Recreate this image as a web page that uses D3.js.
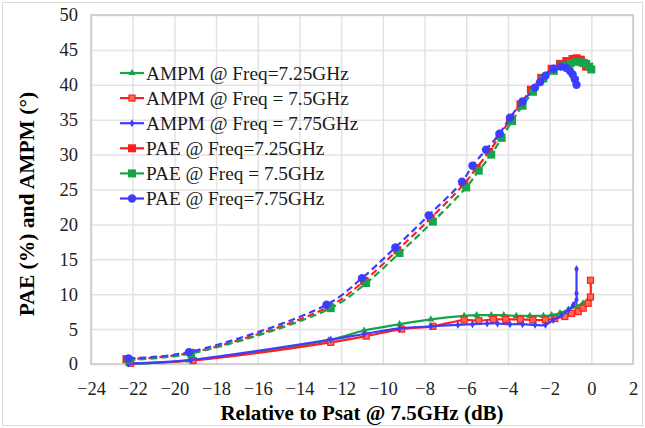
<!DOCTYPE html>
<html lang="en">
<head>
    <meta charset="UTF-8">
    <title>PAE and AMPM</title>
    <script src="https://d3js.org/d3.v7.min.js"></script>
    <style>
        body { margin: 0; background: #fff; }
        text { font-family: "Liberation Serif", "Times New Roman", serif; }
    </style>
</head>
<body>
<svg id="chart" width="645" height="428"></svg>

<script>
    // x: dB relative to Psat, y: PAE (%) or AMPM (deg)
    const ampm725x = [-22.2, -19.3, -12.6, -10.9, -9.2, -7.7, -6.1, -5.5, -4.8, -4.2, -3.6, -2.95, -2.3, -1.9, -1.5, -1.1, -0.7, -0.4, -0.15];
    const ampm725y = [0.0, 0.5, 3.4, 4.8, 5.7, 6.4, 6.9, 7.0, 7.0, 7.0, 6.9, 6.9, 6.9, 7.0, 7.3, 7.8, 8.3, 8.7, 9.2];
    const ampm75x = [-22.1, -19.1, -12.5, -10.8, -9.1, -7.6, -6.1, -5.4, -4.7, -4.1, -3.4, -2.8, -2.2, -1.75, -1.27, -0.95, -0.63, -0.39, -0.15, -0.04, -0.04];
    const ampm75y = [0.1, 0.5, 3.1, 4.0, 5.0, 5.4, 6.3, 6.2, 6.4, 6.4, 6.4, 6.3, 6.3, 6.5, 6.8, 7.25, 7.5, 8.0, 8.7, 9.6, 12.0];
    const ampm775x = [-22.2, -19.2, -12.5, -10.9, -9.2, -7.7, -6.4, -5.7, -5.0, -4.5, -3.9, -3.3, -2.7, -2.2, -1.83, -1.43, -1.1, -0.87, -0.71, -0.71, -0.71];
    const ampm775y = [0.05, 0.6, 3.5, 4.3, 5.1, 5.4, 5.6, 5.7, 5.8, 5.8, 5.7, 5.7, 5.6, 5.6, 6.3, 7.0, 7.7, 8.45, 9.2, 10.1, 13.6];

    const pae725x = [-22.3, -19.2, -12.6, -10.9, -9.3, -7.7, -6.1, -5.5, -4.9, -4.4, -3.9, -3.4, -2.9, -2.4, -1.9, -1.5, -1.2, -0.9, -0.7, -0.5, -0.35, -0.25];
    const pae725y = [0.7, 1.6, 8.2, 11.9, 16.3, 20.9, 25.8, 28.1, 30.4, 32.7, 35.0, 37.2, 39.3, 41.0, 42.3, 43.0, 43.4, 43.7, 43.8, 43.6, 43.1, 42.6];
    const pae75x = [-22.2, -19.2, -12.5, -10.8, -9.2, -7.6, -6.0, -5.4, -4.8, -4.3, -3.8, -3.3, -2.8, -2.3, -1.8, -1.4, -1.0, -0.7, -0.45, -0.25, -0.1, 0.0];
    const pae75y = [0.6, 1.5, 8.0, 11.6, 15.9, 20.4, 25.3, 27.7, 30.0, 32.4, 34.8, 37.0, 39.0, 40.9, 42.0, 42.7, 43.1, 43.3, 43.2, 43.0, 42.6, 42.2];
    const pae775x = [-22.2, -19.3, -12.7, -11.0, -9.4, -7.8, -6.2, -5.7, -5.05, -4.4, -3.9, -3.3, -2.7, -2.45, -2.2, -1.8, -1.47, -1.22, -1.03, -0.9, -0.79, -0.71];
    const pae775y = [0.8, 1.7, 8.5, 12.3, 16.7, 21.3, 26.1, 28.4, 30.7, 33.0, 35.3, 37.6, 39.6, 40.4, 41.3, 42.3, 42.6, 42.45, 42.0, 41.5, 40.8, 40.0];

    const xTicks = [-24, -22, -20, -18, -16, -14, -12, -10, -8, -6, -4, -2, 0, 2];
    const yTicks = [0, 5, 10, 15, 20, 25, 30, 35, 40, 45, 50];

    const GREEN = '#17a34a';
    const RED = '#ff1f1f';
    const BLUE = '#3d3dff';

    const series = [
        {name: 'AMPM @ Freq=7.25GHz', xs: ampm725x, ys: ampm725y, color: GREEN, dash: null, marker: 'tri'},
        {name: 'AMPM @ Freq = 7.5GHz', xs: ampm75x, ys: ampm75y, color: RED, dash: null, marker: 'smallsq'},
        {name: 'AMPM @ Freq = 7.75GHz', xs: ampm775x, ys: ampm775y, color: BLUE, dash: null, marker: 'plus'},
        {name: 'PAE @ Freq=7.25GHz', xs: pae725x, ys: pae725y, color: RED, dash: '7,4', marker: 'square'},
        {name: 'PAE @ Freq = 7.5GHz', xs: pae75x, ys: pae75y, color: GREEN, dash: '7,4', marker: 'square'},
        {name: 'PAE @ Freq=7.75GHz', xs: pae775x, ys: pae775y, color: BLUE, dash: '7,4', marker: 'circle'}
    ];

    const svg = d3.select('#chart');
    const plotL = 91, plotR = 633, plotT = 15, plotB = 364;

    const x = d3.scaleLinear().domain([-24, 2]).range([plotL, plotR]);
    const y = d3.scaleLinear().domain([0, 50]).range([plotB, plotT]);

    // outer chart frame
    svg.append('rect')
        .attr('x', 2.5).attr('y', 2.5)
        .attr('width', 640).attr('height', 423)
        .attr('fill', 'none').attr('stroke', '#d9d9d9');

    // grid
    svg.append('g')
        .attr('transform', `translate(0,${plotB})`)
        .call(d3.axisBottom(x).tickValues(xTicks).tickSize(-(plotB - plotT)).tickFormat(''))
        .call(g => g.select('.domain').remove())
        .selectAll('line').attr('stroke', '#e3e3e3').attr('stroke-width', 1.5);

    svg.append('g')
        .attr('transform', `translate(${plotL},0)`)
        .call(d3.axisLeft(y).tickValues(yTicks).tickSize(-(plotR - plotL)).tickFormat(''))
        .call(g => g.select('.domain').remove())
        .selectAll('line').attr('stroke', '#e3e3e3').attr('stroke-width', 1.5);

    svg.append('rect')
        .attr('x', plotL).attr('y', plotT)
        .attr('width', plotR - plotL).attr('height', plotB - plotT)
        .attr('fill', 'none').attr('stroke', '#c8c8c8').attr('stroke-width', 1.5);

    // tick labels
    svg.append('g')
        .attr('transform', `translate(0,${plotB})`)
        .call(d3.axisBottom(x).tickValues(xTicks).tickSize(0).tickPadding(18))
        .call(g => g.select('.domain').remove())
        .selectAll('text')
        .attr('font-family', '"Liberation Serif", serif')
        .attr('font-size', 18.5).attr('fill', '#222');

    svg.append('g')
        .attr('transform', `translate(${plotL},0)`)
        .call(d3.axisLeft(y).tickValues(yTicks).tickSize(0).tickPadding(13))
        .call(g => g.select('.domain').remove())
        .selectAll('text')
        .attr('font-family', '"Liberation Serif", serif')
        .attr('font-size', 18.5).attr('fill', '#222');

    // axis titles
    svg.append('text')
        .attr('x', 362).attr('y', 420)
        .attr('text-anchor', 'middle')
        .attr('font-weight', 'bold').attr('font-size', 21)
        .text('Relative to Psat @ 7.5GHz (dB)');

    svg.append('text')
        .attr('transform', `translate(34,204) rotate(-90)`)
        .attr('text-anchor', 'middle')
        .attr('font-weight', 'bold').attr('font-size', 21.5)
        .text('PAE (%) and AMPM (°)');

    const drawMarker = (g, type, color, cx, cy) => {
        if (type === 'square') {
            g.append('rect').attr('x', cx - 4).attr('y', cy - 4).attr('width', 8).attr('height', 8).attr('fill', color);
        } else if (type === 'smallsq') {
            g.append('rect').attr('x', cx - 3).attr('y', cy - 3).attr('width', 6).attr('height', 6)
                .attr('fill', '#ff6a4a').attr('stroke', color).attr('stroke-width', 1.2);
        } else if (type === 'circle') {
            g.append('circle').attr('cx', cx).attr('cy', cy).attr('r', 4.2).attr('fill', color);
        } else if (type === 'tri') {
            g.append('path').attr('d', d3.symbol().type(d3.symbolTriangle).size(22)())
                .attr('transform', `translate(${cx},${cy})`).attr('fill', color);
        } else if (type === 'plus') {
            g.append('path').attr('d', d3.symbol().type(d3.symbolDiamond).size(18)())
                .attr('transform', `translate(${cx},${cy})`).attr('fill', color);
        }
    };

    const lineCurve = d3.line().x(d => x(d[0])).y(d => y(d[1])).curve(d3.curveCatmullRom.alpha(0.5));

    series.forEach(s => {
        const pts = s.xs.map((v, i) => [v, s.ys[i]]);
        const g = svg.append('g');
        g.append('path')
            .datum(pts)
            .attr('d', lineCurve)
            .attr('fill', 'none')
            .attr('stroke', s.color)
            .attr('stroke-width', 2.2)
            .attr('stroke-dasharray', s.dash);
        pts.forEach(p => drawMarker(g, s.marker, s.color, x(p[0]), y(p[1])));
    });

    // legend
    const legend = svg.append('g');
    series.forEach((s, i) => {
        const ly = 73 + i * 25.1;
        legend.append('line')
            .attr('x1', 120).attr('x2', 144)
            .attr('y1', ly).attr('y2', ly)
            .attr('stroke', s.color).attr('stroke-width', 2.2);
        drawMarker(legend, s.marker, s.color, 132, ly);
        legend.append('text')
            .attr('x', 146).attr('y', ly + 6.5)
            .attr('font-size', 19.3).attr('fill', '#1a1a1a')
            .text(s.name);
    });
</script>
</body>
</html>
